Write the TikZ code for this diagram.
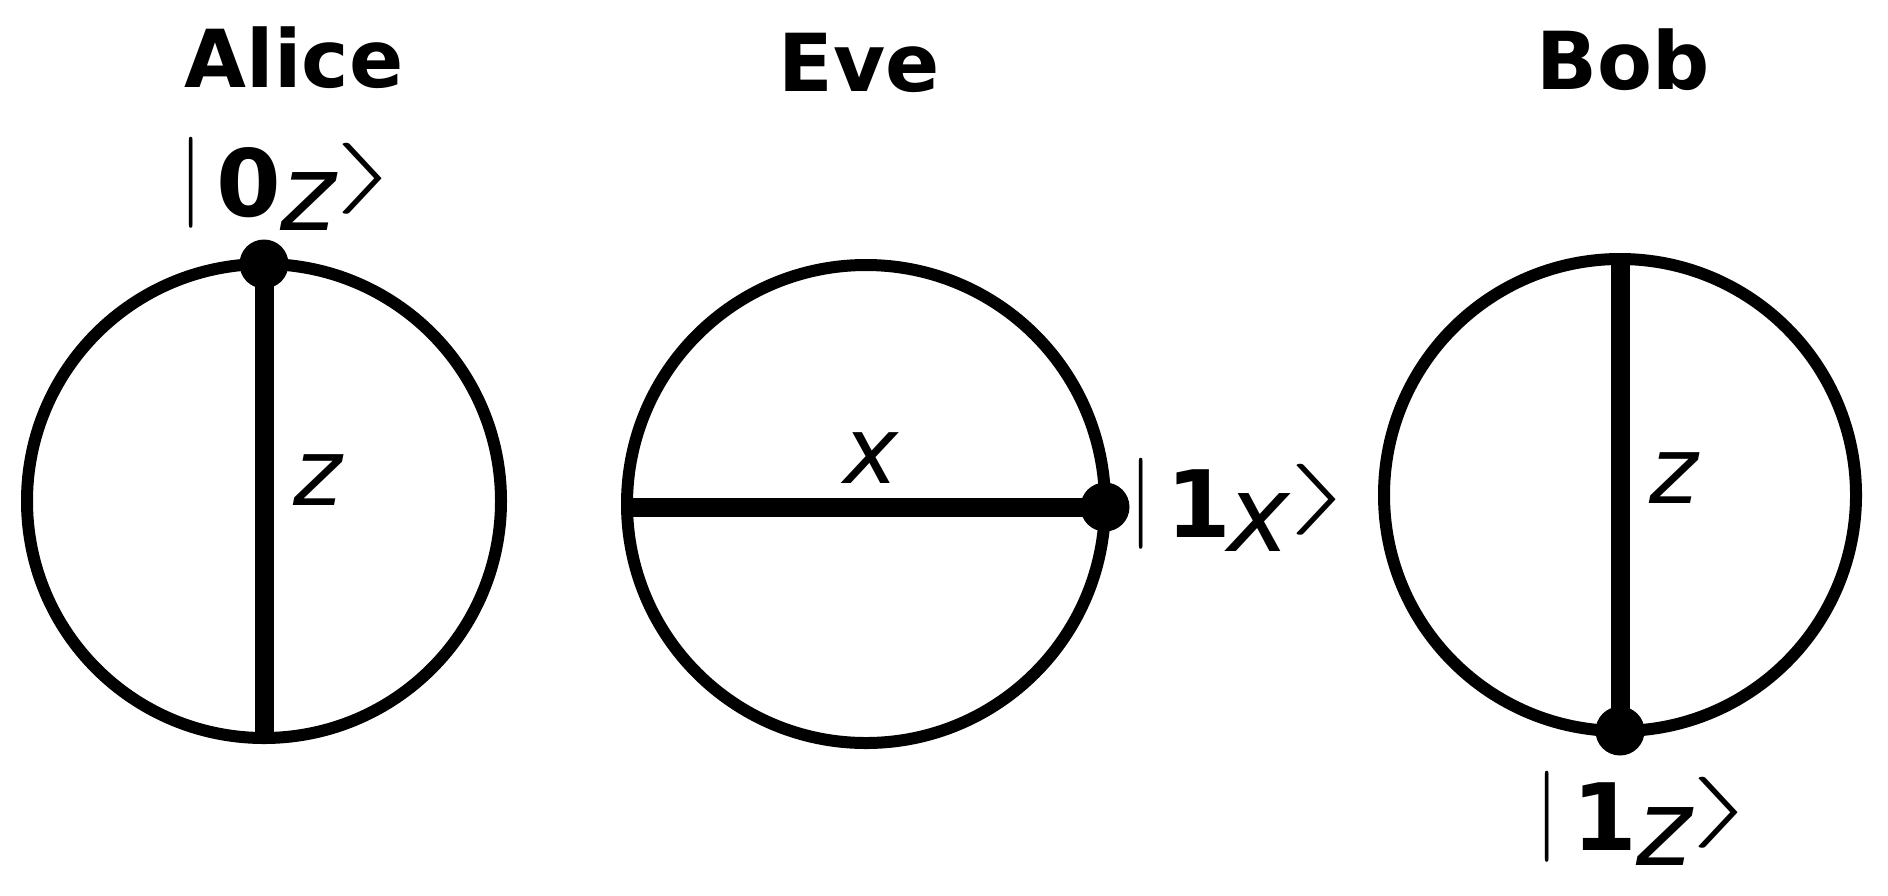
\documentclass[tikz,border=0pt]{standalone}
\usepackage{fontspec}
\setmainfont{DejaVu Sans}[BoldFont={DejaVu Sans Bold},ItalicFont={DejaVu Sans Oblique},BoldItalicFont={DejaVu Sans Bold Oblique}]
\usepackage{graphicx}
\tikzset{
  ring/.style={line width=6pt},
  axisline/.style={line width=9.5pt},
  statedot/.style={circle, fill=black, inner sep=0pt, minimum size=24.5pt},
  titletext/.style={font=\fontsize{40}{48}\selectfont\bfseries, anchor=base, inner sep=0pt},
  axlabel/.style={font=\fontsize{46.5}{50}\selectfont\itshape, inner sep=0pt},
  ketlabel/.style={inner sep=0pt, anchor=base west},
}
% place #3 centred at (#1 right, #2 down) from the reference point
\newcommand{\cpiece}[3]{\setbox0=\hbox{#3}\rlap{\kern#1\makebox[0pt]{\raise\dimexpr(\dp0-\ht0)/2-(#2)\relax\box0}}}
\newcommand{\kbar}{\scalebox{4.55}{$|$}}
\newcommand{\kang}{\scalebox{8.7}[3.55]{$\rangle$}}
\newcommand{\qket}[3][0pt]{%
  \cpiece{0pt}{0pt}{\kbar}%
  \cpiece{28.5pt}{0pt}{\fontsize{46.5}{50}\selectfont\bfseries #2}%
  \cpiece{58.5pt}{9.7pt}{\fontsize{53}{58}\selectfont\itshape #3}%
  \cpiece{\dimexpr88pt+#1\relax}{-2pt}{\kang}%
  \kern98pt}
\begin{document}
\begin{tikzpicture}[x=0.5pt,y=-0.5pt]
\useasboundingbox (0,0) rectangle (1888,895);
% titles
\node[titletext] (talice) at (294,87) {Alice};
\node[titletext] (teve) at (859,91) {Eve};
\node[titletext] (tbob) at (1623,89) {Bob};
% circle centres and poles
\coordinate (A) at (264,501);
\coordinate (Atop) at (264,264);
\coordinate (Abot) at (264,738);
\coordinate (E) at (866,504);
\coordinate (Eleft) at (627,507);
\coordinate (Eright) at (1105,507);
\coordinate (B) at (1620,495);
\coordinate (Btop) at (1620,259);
\coordinate (Bbot) at (1620,731);
% circles
\draw[ring] (A) circle [radius=118.5pt];
\draw[ring] (E) circle [radius=119.5pt];
\draw[ring] (B) circle [radius=118pt];
% axes
\draw[axisline] (Atop) -- (Abot);
\draw[axisline] (Eleft) -- (Eright);
\draw[axisline] (Btop) -- (Bbot);
% dots
\node[statedot] (adot) at (Atop) {};
\node[statedot] (edot) at (Eright) {};
\node[statedot] (bdot) at (Bbot) {};
% axis labels
\node[axlabel] (az) at (317.5,480.5) {z};
\node[axlabel] (ex) at (871.5,458.5) {x};
\node[axlabel] (bz) at (1674,478) {z};
% kets
\node[ketlabel] (aket) at (191,182.5) {\qket{0}{z}};
\node[ketlabel] (eket) at (1141,503.5) {\qket[2pt]{1}{x}};
\node[ketlabel] (bket) at (1547,817) {\qket{1}{z}};
\end{tikzpicture}
\end{document}
